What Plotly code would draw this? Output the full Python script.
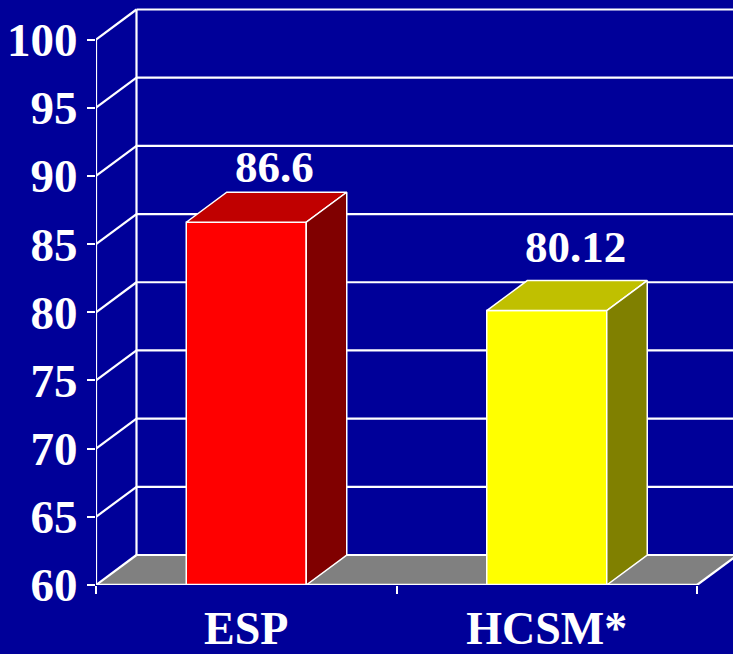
import plotly.graph_objects as go

# ── data ────────────────────────────────────────────────────────────────
categories = ["ESP", "HCSM*"]
values = [86.6, 80.12]
value_labels = ["86.6", "80.12"]
y_ticks = [60, 65, 70, 75, 80, 85, 90, 95, 100]

# ── palette ─────────────────────────────────────────────────────────────
BG = "#000099"
WHITE = "#FFFFFF"
FLOOR = "#808080"
FLOOR_EDGE = "#C0C0C0"
FRONT = ["#FF0000", "#FFFF00"]
TOP = ["#C00000", "#C0C000"]
SIDE = ["#800000", "#808000"]
FONT = dict(family="Liberation Serif, Times New Roman, serif", color=WHITE, size=45, weight="bold")
TICK_FONT = dict(FONT, size=47)

# ── pseudo-3D geometry (axis units) ─────────────────────────────────────
PX_PER_CAT = 300.5
PX_PER_UNIT = 545.5 / 40
Y0, Y1 = 60, 100
X0, X1 = -0.5, len(categories) - 0.5
DX = 40.5 / PX_PER_CAT          # depth offset, horizontal
DY = 30 / PX_PER_UNIT           # depth offset, vertical
HALF = 60 / PX_PER_CAT          # half bar width
ML, MB, MT, MR = 96, 69, 0, 0
W, H = 733, 654

fig = go.Figure()


def poly(xs, ys, fill, line_color=WHITE, width=1.5):
    fig.add_trace(go.Scatter(
        x=xs + [xs[0]], y=ys + [ys[0]], mode="lines", fill="toself",
        fillcolor=fill, line=dict(color=line_color, width=width),
        hoverinfo="skip", showlegend=False,
    ))


def lines(xs, ys, width=2.2):
    fig.add_trace(go.Scatter(
        x=xs, y=ys, mode="lines", line=dict(color=WHITE, width=width),
        hoverinfo="skip", showlegend=False,
    ))


# floor
poly([X0, X1, X1 + DX, X0 + DX], [Y0, Y0, Y0 + DY, Y0 + DY], FLOOR, FLOOR_EDGE, 1)

# back wall gridlines + left wall diagonals
gx, gy, dxs, dys = [], [], [], []
for v in y_ticks:
    gx += [X0 + DX, X1 + DX, None]
    gy += [v + DY, v + DY, None]
    dxs += [X0, X0 + DX, None]
    dys += [v, v + DY, None]
lines(gx, gy)
lines(dxs, dys)
lines([X0 + DX, X0 + DX], [Y0 + DY, Y1 + DY])
lines([X0, X0], [Y0, Y1])
lines([X1, X1 + DX], [Y0, Y0 + DY])

# bars
for i, v in enumerate(values):
    l, r = i - HALF, i + HALF
    poly([l, r, r, l], [Y0, Y0, v, v], FRONT[i])
    poly([l, r, r + DX, l + DX], [v, v, v + DY, v + DY], TOP[i])
    poly([r, r + DX, r + DX, r], [Y0, Y0 + DY, v + DY, v], SIDE[i])

# front baseline
lines([X0, X1], [Y0, Y0], width=2.5)

# value labels
LABEL_GAP_PX = [25, 34]
for i, (v, t) in enumerate(zip(values, value_labels)):
    fig.add_annotation(
        x=i + DX * 0.7, y=v + DY, text=t, showarrow=False,
        xanchor="center", yanchor="middle", yshift=LABEL_GAP_PX[i],
        font=FONT,
    )

plot_w = W - ML - MR
plot_h = H - MB - MT
fig.update_layout(
    width=W, height=H,
    margin=dict(l=ML, r=MR, t=MT, b=MB, pad=0),
    paper_bgcolor=BG, plot_bgcolor=BG,
    font=FONT,
    showlegend=False,
    xaxis=dict(
        range=[X0, X0 + plot_w / PX_PER_CAT],
        tickmode="array", tickvals=list(range(len(categories))), ticktext=categories,
        ticks="", showgrid=False, zeroline=False, showline=False,
        tickfont=dict(FONT, size=46), ticklabelstandoff=12,
        minor=dict(tickmode="array", tickvals=[X0 + k for k in range(len(categories) + 1)],
                   ticks="outside", ticklen=8, tickwidth=2, tickcolor=WHITE, showgrid=False),
        fixedrange=True,
    ),
    yaxis=dict(
        range=[Y0, Y0 + plot_h / PX_PER_UNIT],
        tickmode="array", tickvals=y_ticks,
        ticks="outside", ticklen=8, tickwidth=2, tickcolor=WHITE,
        showgrid=False, zeroline=False, showline=False,
        tickfont=TICK_FONT, ticklabelstandoff=0,
        fixedrange=True,
    ),
)

fig.write_html(
    "out.html",
    config={"displayModeBar": False},
    post_script="document.body.style.margin='0';document.body.style.overflow='hidden';",
)
